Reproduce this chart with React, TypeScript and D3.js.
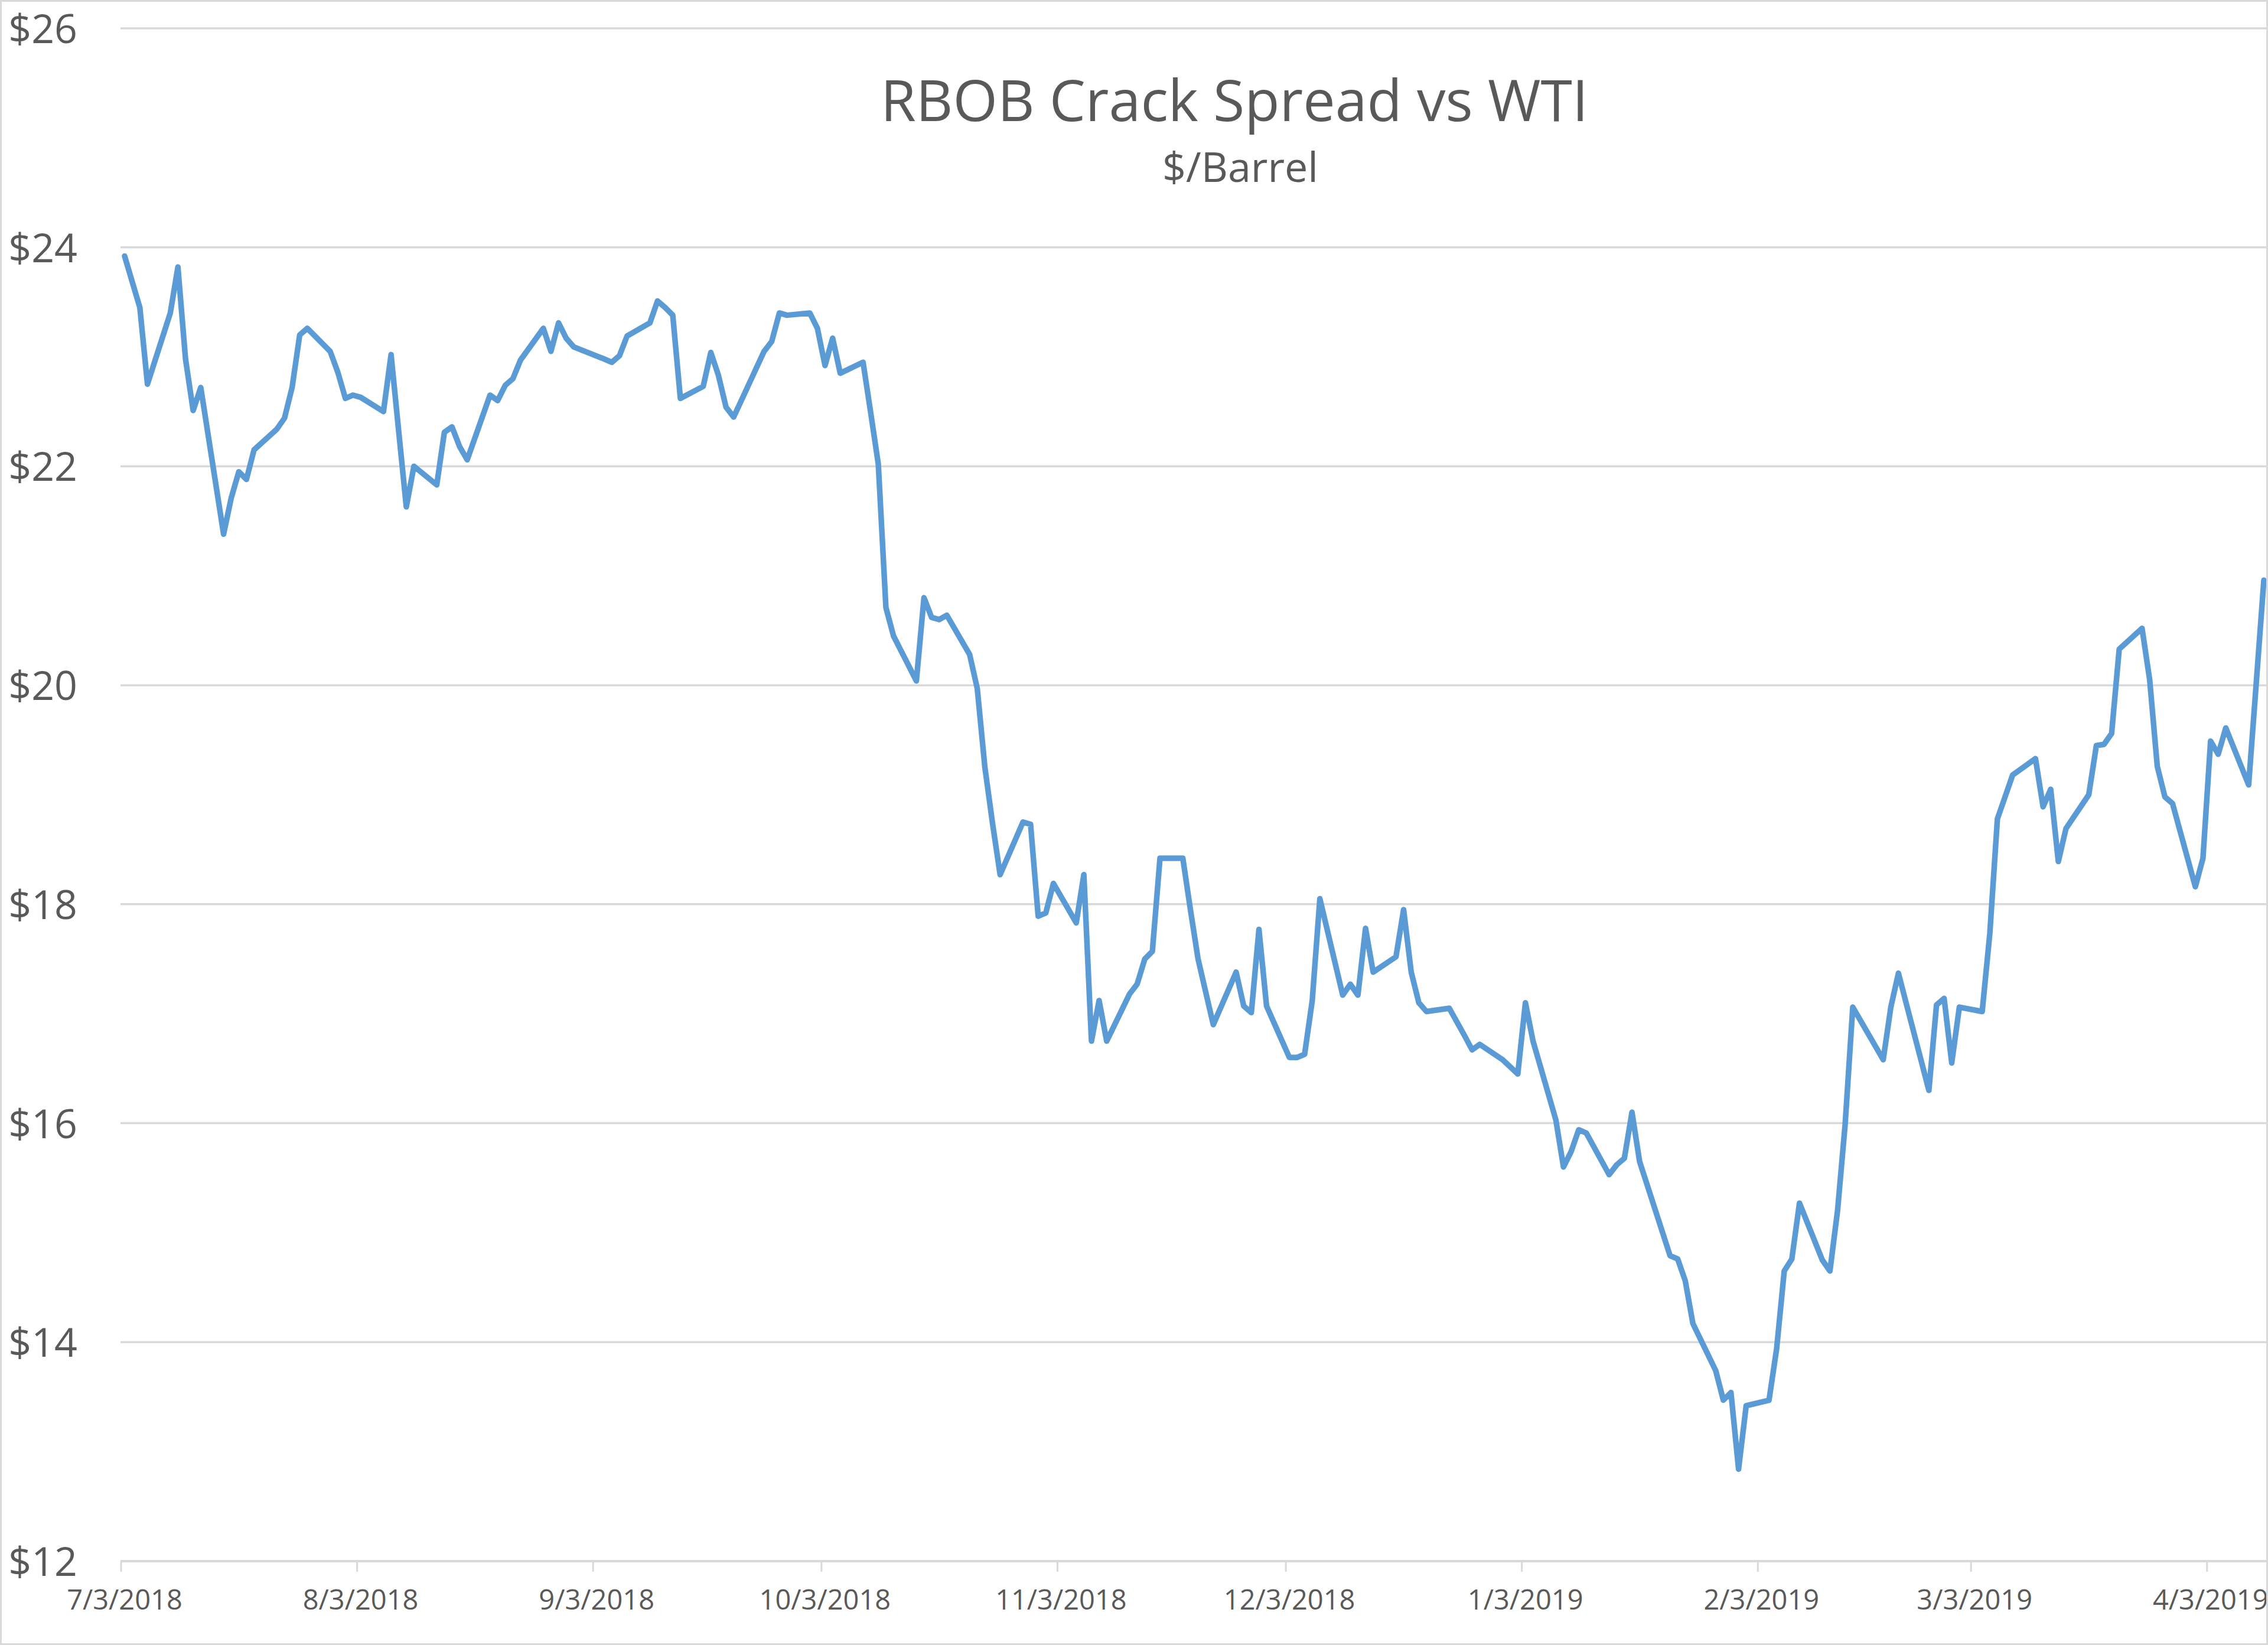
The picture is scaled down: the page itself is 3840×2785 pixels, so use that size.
import * as d3 from 'd3';
import React, { useRef, useEffect } from 'react';

const W = 3840;
const H = 2785;

// trading days, 7/3/2018 - 4/10/2019
const dates = [
  "7/3/2018","7/5/2018","7/6/2018","7/9/2018","7/10/2018","7/11/2018","7/12/2018","7/13/2018","7/16/2018","7/17/2018",
  "7/18/2018","7/19/2018","7/20/2018","7/23/2018","7/24/2018","7/25/2018","7/26/2018","7/27/2018","7/30/2018","7/31/2018",
  "8/1/2018","8/2/2018","8/3/2018","8/6/2018","8/7/2018","8/8/2018","8/9/2018","8/10/2018","8/13/2018","8/14/2018",
  "8/15/2018","8/16/2018","8/17/2018","8/20/2018","8/21/2018","8/22/2018","8/23/2018","8/24/2018","8/27/2018","8/28/2018",
  "8/29/2018","8/30/2018","8/31/2018",
  "9/4/2018","9/5/2018","9/6/2018","9/7/2018","9/10/2018","9/11/2018","9/12/2018","9/13/2018","9/14/2018","9/17/2018",
  "9/18/2018","9/19/2018","9/20/2018","9/21/2018","9/24/2018","9/25/2018","9/26/2018","9/27/2018","9/28/2018",
  "10/1/2018","10/2/2018","10/3/2018","10/4/2018","10/5/2018","10/8/2018","10/9/2018","10/10/2018","10/11/2018","10/12/2018",
  "10/15/2018","10/16/2018","10/17/2018","10/18/2018","10/19/2018","10/22/2018","10/23/2018","10/24/2018","10/25/2018","10/26/2018",
  "10/29/2018","10/30/2018","10/31/2018",
  "11/1/2018","11/2/2018","11/5/2018","11/6/2018","11/7/2018","11/8/2018","11/9/2018","11/12/2018","11/13/2018","11/14/2018",
  "11/15/2018","11/16/2018","11/19/2018","11/20/2018","11/21/2018","11/23/2018","11/26/2018","11/27/2018","11/28/2018","11/29/2018",
  "11/30/2018",
  "12/3/2018","12/4/2018","12/5/2018","12/6/2018","12/7/2018","12/10/2018","12/11/2018","12/12/2018","12/13/2018","12/14/2018",
  "12/17/2018","12/18/2018","12/19/2018","12/20/2018","12/21/2018","12/24/2018","12/26/2018","12/27/2018","12/28/2018","12/31/2018",
  "1/2/2019","1/3/2019","1/4/2019","1/7/2019","1/8/2019","1/9/2019","1/10/2019","1/11/2019","1/14/2019","1/15/2019",
  "1/16/2019","1/17/2019","1/18/2019","1/22/2019","1/23/2019","1/24/2019","1/25/2019","1/28/2019","1/29/2019","1/30/2019",
  "1/31/2019",
  "2/1/2019","2/4/2019","2/5/2019","2/6/2019","2/7/2019","2/8/2019","2/11/2019","2/12/2019","2/13/2019","2/14/2019",
  "2/15/2019","2/19/2019","2/20/2019","2/21/2019","2/22/2019","2/25/2019","2/26/2019","2/27/2019","2/28/2019",
  "3/1/2019","3/4/2019","3/5/2019","3/6/2019","3/7/2019","3/8/2019","3/11/2019","3/12/2019","3/13/2019","3/14/2019",
  "3/15/2019","3/18/2019","3/19/2019","3/20/2019","3/21/2019","3/22/2019","3/25/2019","3/26/2019","3/27/2019","3/28/2019",
  "3/29/2019",
  "4/1/2019","4/2/2019","4/3/2019","4/4/2019","4/5/2019","4/8/2019","4/9/2019","4/10/2019"
];

// $/barrel
const spread = [
  23.92, 23.45, 22.75, 23.40, 23.82, 22.98, 22.51, 22.72, 21.38, 21.71,
  21.95, 21.88, 22.15, 22.34, 22.44, 22.72, 23.20, 23.26, 23.05, 22.86,
  22.62, 22.65, 22.63, 22.50, 23.02, 22.32, 21.63, 22.00, 21.83, 22.31,
  22.36, 22.18, 22.06, 22.65, 22.60, 22.74, 22.80, 22.97, 23.26, 23.05,
  23.31, 23.17, 23.09,
  22.98, 22.95, 23.01, 23.19, 23.31, 23.51, 23.45, 23.38, 22.62, 22.73,
  23.04, 22.83, 22.54, 22.45, 22.90, 23.05, 23.14, 23.40, 23.38,
  23.40, 23.26, 22.92, 23.17, 22.85, 22.95, 22.49, 22.02, 20.71, 20.45,
  20.04, 20.80, 20.62, 20.60, 20.64, 20.28, 19.97, 19.25, 18.74, 18.27,
  18.75, 18.73, 17.89,
  17.92, 18.19, 17.83, 18.27, 16.75, 17.12, 16.75, 17.18, 17.27, 17.50,
  17.57, 18.42, 18.42, 17.95, 17.50, 16.90, 17.38, 17.07, 17.01, 17.77,
  17.07,
  16.60, 16.60, 16.63, 17.12, 18.05, 17.17, 17.27, 17.17, 17.78, 17.38,
  17.52, 17.95, 17.38, 17.10, 17.02, 17.05, 16.80, 16.67, 16.72, 16.58,
  16.45, 17.10, 16.75, 16.03, 15.60, 15.74, 15.94, 15.91, 15.53, 15.62,
  15.68, 16.10, 15.65, 14.79, 14.76, 14.56, 14.17, 13.74, 13.47, 13.54,
  12.84,
  13.42, 13.47, 13.94, 14.65, 14.76, 15.27, 14.75, 14.65, 15.20, 15.99,
  17.06, 16.58, 17.06, 17.37, 17.10, 16.30, 17.08, 17.14, 16.55,
  17.06, 17.02, 17.73, 18.78, 18.98, 19.18, 19.33, 18.89, 19.05, 18.39,
  18.69, 19.00, 19.45, 19.46, 19.56, 20.33, 20.52, 20.05, 19.26, 18.98,
  18.92,
  18.16, 18.42, 19.49, 19.37, 19.61, 19.09, 20.02, 20.96
];

const yTicks = [12, 14, 16, 18, 20, 22, 24, 26];
const xTickLabels = [
  "7/3/2018", "8/3/2018", "9/3/2018", "10/3/2018", "11/3/2018",
  "12/3/2018", "1/3/2019", "2/3/2019", "3/3/2019", "4/3/2019"
];

const FONT = "'Open Sans', 'Noto Sans', sans-serif";
const TEXT = "#595959";
const GRID = "#d9d9d9";

function CrackChart() {
  const ref = useRef(null);

  useEffect(() => {
    draw();
  }, []);

  const draw = () => {
    const svg = d3.select(ref.current);
    svg.selectAll("*").remove();

    const parse = d3.utcParse("%m/%d/%Y");
    const data = dates.map((d, i) => ({ date: parse(d), value: spread[i] }));

    const plotLeft = 204;
    const plotRight = 3838;

    const x = d3.scaleUtc()
      .domain(d3.extent(data, d => d.date))
      .range([211, 3833]);

    const y = d3.scaleLinear()
      .domain([12, 26])
      .range([2643, 48]);

    svg.append("rect")
      .attr("x", 0).attr("y", 0)
      .attr("width", W).attr("height", H)
      .attr("fill", "#fff");

    // gridlines
    svg.append("g")
      .selectAll("line")
      .data(yTicks.slice(1))
      .enter()
      .append("line")
      .attr("x1", plotLeft)
      .attr("x2", plotRight)
      .attr("y1", d => y(d))
      .attr("y2", d => y(d))
      .attr("stroke", GRID)
      .attr("stroke-width", 3.5);

    // y labels
    svg.append("g")
      .selectAll("text")
      .data(yTicks)
      .enter()
      .append("text")
      .attr("x", 131)
      .attr("y", d => y(d) + 25)
      .attr("text-anchor", "end")
      .attr("font-family", FONT)
      .attr("font-size", 68)
      .attr("fill", TEXT)
      .text(d => "$" + d);

    // x axis
    const tickDates = xTickLabels.map(parse);
    const xAxis = svg.append("g").attr("transform", `translate(0, ${y(12)})`);
    xAxis.append("line")
      .attr("x1", plotLeft)
      .attr("x2", plotRight)
      .attr("stroke", GRID)
      .attr("stroke-width", 4);
    xAxis.selectAll(".tick")
      .data(tickDates)
      .enter()
      .append("line")
      .attr("x1", d => x(d) - 6)
      .attr("x2", d => x(d) - 6)
      .attr("y1", 0)
      .attr("y2", 18)
      .attr("stroke", GRID)
      .attr("stroke-width", 3);
    xAxis.selectAll("text")
      .data(tickDates)
      .enter()
      .append("text")
      .attr("x", d => x(d))
      .attr("y", 82)
      .attr("text-anchor", "middle")
      .attr("font-family", FONT)
      .attr("font-size", 47)
      .attr("fill", TEXT)
      .text((d, i) => xTickLabels[i]);

    // the series
    const line = d3.line()
      .x(d => x(d.date))
      .y(d => y(d.value));

    svg.append("path")
      .datum(data)
      .attr("d", line)
      .attr("fill", "none")
      .attr("stroke", "#5B9BD5")
      .attr("stroke-width", 9.5)
      .attr("stroke-linejoin", "round")
      .attr("stroke-linecap", "round");

    // titles
    svg.append("text")
      .attr("x", 2090)
      .attr("y", 205)
      .attr("text-anchor", "middle")
      .attr("font-family", FONT)
      .attr("font-size", 97)
      .attr("fill", TEXT)
      .text("RBOB Crack Spread vs WTI");

    svg.append("text")
      .attr("x", 2100)
      .attr("y", 308)
      .attr("text-anchor", "middle")
      .attr("font-family", FONT)
      .attr("font-size", 70)
      .attr("fill", TEXT)
      .text("$/Barrel");

    // chart frame
    svg.append("rect")
      .attr("x", 1.5).attr("y", 1.5)
      .attr("width", W - 3).attr("height", H - 3)
      .attr("fill", "none")
      .attr("stroke", GRID)
      .attr("stroke-width", 3);
  };

  return (
    <svg ref={ref} width={W} height={H} style={{ display: "block" }}></svg>
  );
}

export default function App() {
  return (
    <div style={{ position: "absolute", left: 0, top: 0 }}>
      <CrackChart />
    </div>
  );
}
